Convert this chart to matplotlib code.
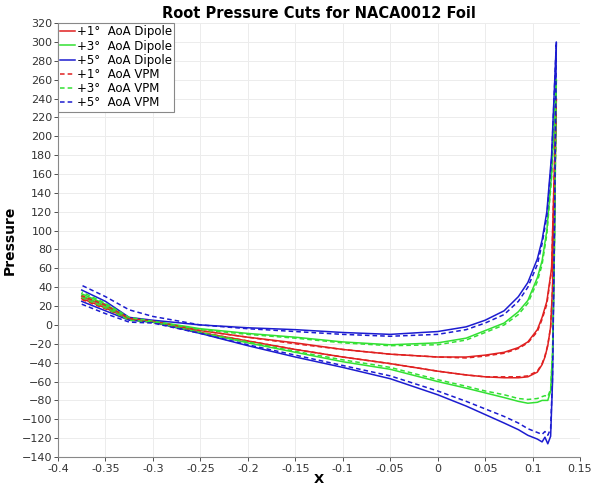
import matplotlib.pyplot as plt
import numpy as np

# x positions along the chord for the two surface branches
upper_x = [-0.375, -0.35, -0.325, -0.3, -0.25, -0.2, -0.15, -0.1, -0.05, 0.0,
           0.03, 0.05, 0.07, 0.085, 0.095, 0.105, 0.11, 0.115, 0.12, 0.125]
lower_x = [-0.375, -0.35, -0.325, -0.3, -0.25, -0.2, -0.15, -0.1, -0.05, 0.0,
           0.03, 0.05, 0.07, 0.085, 0.095, 0.105, 0.11, 0.113, 0.116, 0.119,
           0.121, 0.123, 0.125]

# Dipole (solid) pressures
dip1_up = [30, 20, 7, 4, -6, -13, -19, -26, -31, -34, -34, -32, -29, -24, -18, -5, 8, 25, 60, 240]
dip1_lo = [28, 18, 6, 3, -8, -17, -26, -34, -41, -49, -53, -55, -56, -56, -55, -50, -42, -34, -22, -2, 40, 120, 240]
dip3_up = [33, 22, 7, 4, -4, -9, -13, -18, -21, -19, -14, -6, 2, 14, 26, 50, 68, 100, 160, 260]
dip3_lo = [31, 20, 6, 3, -8, -19, -29, -39, -47, -60, -67, -72, -77, -81, -83, -82, -80, -80, -80, -70, -30, 80, 260]
dip5_up = [37, 25, 8, 5, 0, -3, -5, -8, -10, -7, -2, 5, 15, 30, 45, 70, 90, 120, 180, 300]
dip5_lo = [25, 15, 5, 3, -9, -22, -34, -45, -57, -74, -86, -95, -104, -111, -117, -121, -124, -119, -126, -118, -60, 100, 300]

# VPM (dashed) pressures
vpm1_up = [31, 21, 7, 4, -6, -13, -20, -26, -31, -34, -35, -33, -30, -25, -19, -7, 6, 22, 58, 240]
vpm1_lo = [27, 17, 6, 3, -8, -17, -26, -34, -41, -49, -53, -55, -55, -55, -54, -49, -41, -33, -21, -2, 38, 118, 240]
vpm3_up = [35, 23, 8, 4, -5, -10, -14, -19, -22, -21, -16, -8, 0, 11, 23, 46, 64, 96, 156, 260]
vpm3_lo = [29, 18, 5, 3, -8, -18, -28, -37, -45, -58, -65, -70, -74, -78, -79, -78, -76, -75, -76, -68, -30, 80, 260]
vpm5_up = [42, 30, 16, 9, 0, -4, -7, -10, -12, -10, -5, 2, 11, 25, 40, 64, 86, 115, 175, 300]
vpm5_lo = [22, 12, 3, 2, -9, -21, -32, -43, -54, -70, -81, -89, -97, -104, -110, -114, -116, -113, -117, -110, -55, 100, 300]

labels = ["+1°  AoA Dipole", "+3°  AoA Dipole", "+5°  AoA Dipole",
          "+1°  AoA VPM", "+3°  AoA VPM", "+5°  AoA VPM"]
xticks = [-0.4, -0.35, -0.3, -0.25, -0.2, -0.15, -0.1, -0.05, 0, 0.05, 0.1, 0.15]
xticklabels = ["-0.4", "-0.35", "-0.3", "-0.25", "-0.2", "-0.15", "-0.1", "-0.05", "0", "0.05", "0.1", "0.15"]
yticks = list(range(-140, 321, 20))

red = "#e02020"
green = "#33e033"
blue = "#1c1cd0"

series = [(dip1_up, dip1_lo, red, "-"), (dip3_up, dip3_lo, green, "-"), (dip5_up, dip5_lo, blue, "-"),
          (vpm1_up, vpm1_lo, red, "--"), (vpm3_up, vpm3_lo, green, "--"), (vpm5_up, vpm5_lo, blue, "--")]

fig = plt.figure(figsize=(5.98, 4.87), dpi=100)
ax = fig.add_axes([0.097, 0.0616, 0.873, 0.891])

for (up, lo, c, ls), lab in zip(series, labels):
    # closed loop: lower surface to trailing edge, back along upper surface
    xx = list(lower_x) + list(upper_x[::-1])
    yy = list(lo) + list(up[::-1])
    ax.plot(xx, yy, color=c, linestyle=ls, linewidth=1.1,
            dashes=(3, 2) if ls == "--" else (None, None), label=lab)

ax.set_xlim(-0.4, 0.15)
ax.set_ylim(-140, 320)
ax.set_xticks(xticks)
ax.set_xticklabels(xticklabels)
ax.set_yticks(yticks)
ax.tick_params(labelsize=8, colors="#333333", length=3, width=0.6)
ax.tick_params(axis="y", pad=1)
ax.tick_params(axis="x", pad=2)
ax.grid(True, color="#ececec", linewidth=0.7)
for s in ["top", "right"]:
    ax.spines[s].set_visible(False)
for s in ["left", "bottom"]:
    ax.spines[s].set_color("#888888")
    ax.spines[s].set_linewidth(0.8)

ax.set_title("Root Pressure Cuts for NACA0012 Foil", fontsize=10.5, fontweight="bold", pad=4)
ax.set_xlabel("X", fontsize=9.5, fontweight="bold", labelpad=-1)
ax.set_ylabel("Pressure", fontsize=10, fontweight="bold", labelpad=4)

leg = ax.legend(loc="upper left", fontsize=8.5, handlelength=1.2, handletextpad=0.2,
                labelspacing=0.1, borderpad=0.2, borderaxespad=0.0, fancybox=False,
                framealpha=1)
leg.get_frame().set_edgecolor("#888888")
leg.get_frame().set_linewidth(0.8)

fig.savefig("out.png", dpi=100)
